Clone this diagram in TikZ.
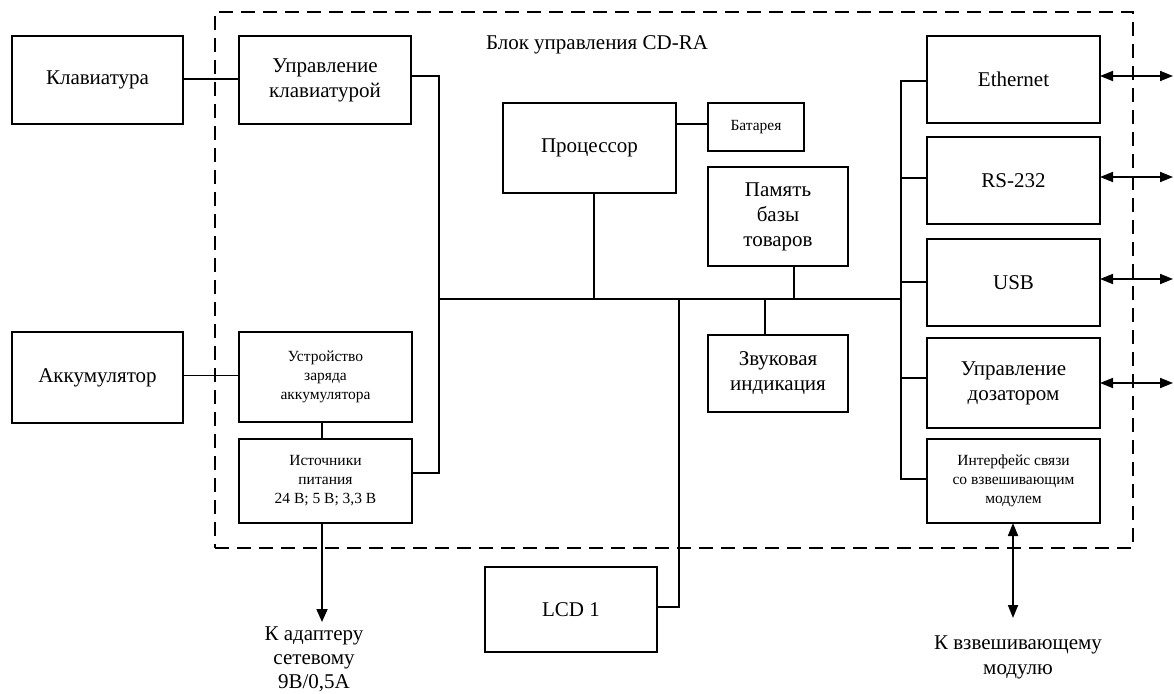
\documentclass[tikz,border=0pt]{standalone}
\usepackage{fontspec}
\setmainfont{Liberation Serif}
\usetikzlibrary{arrows.meta,calc}
\begin{document}
\begin{tikzpicture}[x=1pt,y=1pt,
 box/.style={draw, line width=1.3pt, inner sep=0pt, outer sep=0pt, align=center, font=\fontsize{21}{25}\selectfont},
 sbox/.style={box, font=\fontsize{15.5}{19}\selectfont},
 conn/.style={line width=1.3pt},
 dbl/.style={line width=1.8pt, {Triangle[length=13pt,width=10pt]}-{Triangle[length=13pt,width=10pt]}},
 arr/.style={line width=1.8pt, -{Triangle[length=13pt,width=11pt]}},
 lbl/.style={align=center, inner sep=0pt, font=\fontsize{21}{25}\selectfont},
 frame/.style={draw, line width=1.3pt, dash pattern=on 14pt off 8pt, inner sep=0pt, outer sep=0pt}]
\useasboundingbox (0,0) rectangle (1174,-693);

% control block frame
\node[frame, minimum width=918pt, minimum height=536pt] (blk) at (674,-280) {};
\node[lbl] (title) at (597,-45) {Блок управления CD-RA};

% left side
\node[box, minimum width=171pt, minimum height=88pt] (klav) at (97.5,-80) {Клавиатура};
\node[box, minimum width=172pt, minimum height=88pt] (upkl) at (325,-80) {Управление\\клавиатурой};
\node[box, minimum width=171pt, minimum height=91pt] (akk) at (97.5,-377.5) {Аккумулятор};
\node[sbox, minimum width=173pt, minimum height=90pt] (zar) at (325.5,-377) {Устройство\\заряда\\аккумулятора};
\node[sbox, minimum width=173pt, minimum height=84pt] (ist) at (325.5,-481) {Источники\\питания\\24 В; 5 В; 3,3 В};

% centre
\node[box, minimum width=173pt, minimum height=90pt] (proc) at (589.5,-148) {Процессор};
\node[sbox, minimum width=96pt, minimum height=48pt] (bat) at (756,-127) {Батарея};
\node[box, minimum width=140pt, minimum height=99pt] (mem) at (778,-216.5) {Память\\базы\\товаров};
\node[box, minimum width=140pt, minimum height=77pt] (zvuk) at (778,-373.5) {Звуковая\\индикация};
\node[box, minimum width=172pt, minimum height=85pt] (lcd) at (571,-609.5) {LCD 1};

% right side
\node[box, minimum width=173pt, minimum height=87pt] (eth) at (1013.5,-79.5) {Ethernet};
\node[box, minimum width=173pt, minimum height=87pt] (rs) at (1013.5,-180.5) {RS-232};
\node[box, minimum width=173pt, minimum height=87pt] (usb) at (1013.5,-282.5) {USB};
\node[box, minimum width=173pt, minimum height=90pt] (doz) at (1013.5,-383) {Управление\\дозатором};
\node[sbox, minimum width=173pt, minimum height=84pt] (intf) at (1013.5,-481) {Интерфейс связи\\со взвешивающим\\модулем};

% bus coordinates
\coordinate (bL) at (439,-299);
\coordinate (bR) at (901,-299);
\coordinate (lcdtap) at (679,-299);

% bus and left trunk
\draw[conn] (bL) -- (bR);
\draw[conn] ([yshift=4pt]upkl.east) -| ([yshift=8pt]ist.east -| bL) -- ([yshift=8pt]ist.east);
\draw[conn] (klav.east |- 0,-79) -- (upkl.west |- 0,-79);
\draw[conn] ([yshift=2pt]akk.east) -- ([yshift=2pt]akk.east -| zar.west);
\draw[conn] ([xshift=-3.5pt]zar.south) -- ([xshift=-3.5pt]ist.north);

% centre connections
\draw[conn] ([xshift=4.5pt]proc.south) -- ([xshift=4.5pt]proc.south |- bL);
\draw[conn] ([yshift=3pt]bat.west) -- ([yshift=3pt]bat.west -| proc.east);
\draw[conn] ([xshift=16pt]mem.south) -- ([xshift=16pt]mem.south |- bL);
\draw[conn] ([xshift=-13pt]zvuk.north) -- ([xshift=-13pt]zvuk.north |- bL);
\draw[conn] (lcdtap) |- ([yshift=2.5pt]lcd.east);

% right trunk
\draw[conn] ([yshift=-1.5pt]eth.west) -| ([yshift=2pt]intf.west -| bR) -- ([yshift=2pt]intf.west);
\draw[conn] ([yshift=2.5pt]rs.west) -- ([yshift=2.5pt]rs.west -| bR);
\draw[conn] ([yshift=0.5pt]usb.west) -- ([yshift=0.5pt]usb.west -| bR);
\draw[conn] ([yshift=5pt]doz.west) -- ([yshift=5pt]doz.west -| bR);

% external arrows
\coordinate (eE) at (1173,-76);
\coordinate (rE) at (1173,-177);
\coordinate (uE) at (1173,-279);
\coordinate (dE) at (1173,-383);
\draw[dbl] ([yshift=3.5pt]eth.east) -- (eE);
\draw[dbl] ([yshift=3.5pt]rs.east) -- (rE);
\draw[dbl] ([yshift=3.5pt]usb.east) -- (uE);
\draw[dbl] (doz.east) -- (dE);

\coordinate (vzv) at (1013,-618);
\draw[dbl] ([xshift=-0.5pt]intf.south) -- (vzv);
\node[lbl] (vzvtxt) at (1018,-657) {К взвешивающему\\модулю};

\coordinate (adp) at (322,-622);
\draw[arr] ([xshift=-3.5pt]ist.south) -- (adp);
\node[lbl, font=\fontsize{21}{24}\selectfont] (adptxt) at (314,-659) {К адаптеру\\сетевому\\9В/0,5А};
\end{tikzpicture}
\end{document}
